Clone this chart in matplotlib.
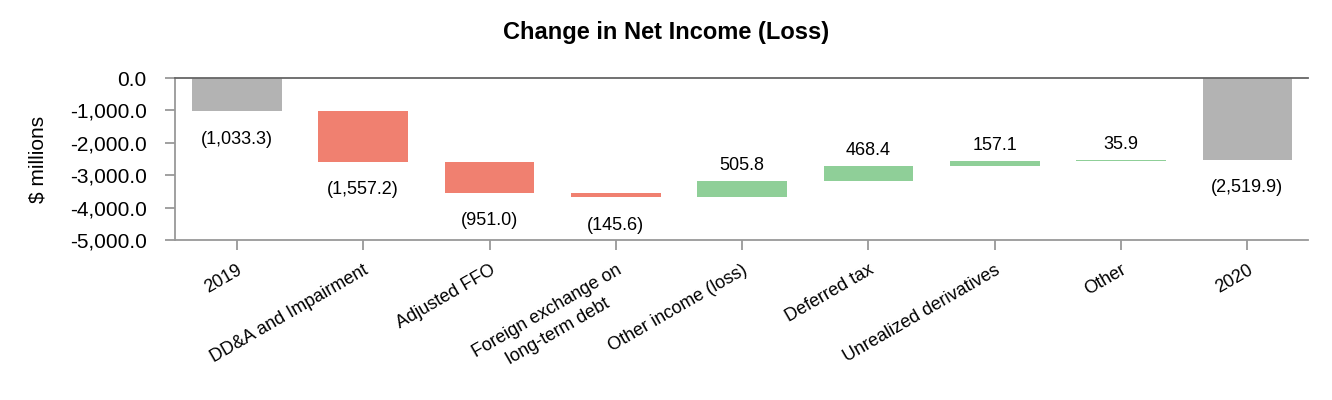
import matplotlib.pyplot as plt
from matplotlib.ticker import FuncFormatter

plt.rcParams['font.family'] = ['Liberation Sans', 'DejaVu Sans']

categories = ['2019', 'DD&A and Impairment', 'Adjusted FFO',
              'Foreign exchange on\nlong-term debt', 'Other income (loss)',
              'Deferred tax', 'Unrealized derivatives', 'Other', '2020']
changes = [-1033.3, -1557.2, -951.0, -145.6, 505.8, 468.4, 157.1, 35.9, -2519.9]
is_total = [True, False, False, False, False, False, False, False, True]

fig = plt.figure(figsize=(13.32, 4), dpi=100)
ax = fig.add_axes([0.1314, 0.40, 0.8506, 0.405])

# build waterfall bottoms
running = 0.0
for i, (v, tot) in enumerate(zip(changes, is_total)):
    if tot:
        bottom, top = 0.0, v
        color = '#b3b3b3'
        running = v
    else:
        bottom = running
        top = running + v
        running = top
        color = '#f08070' if v < 0 else '#8fcf98'
    ax.bar(i, top - bottom, bottom=bottom, width=0.71, color=color, zorder=2)
    low = min(top, bottom)
    high = max(top, bottom)
    if v < 0:
        txt = '({:,.1f})'.format(abs(v))
        ax.annotate(txt, (i, low), xytext=(0, -14), textcoords='offset points',
                    ha='center', va='top', fontsize=13)
    else:
        txt = '{:,.1f}'.format(v)
        ax.annotate(txt, (i, high), xytext=(0, 5), textcoords='offset points',
                    ha='center', va='bottom', fontsize=13)

ax.set_xlim(-0.49, 8.48)
ax.set_ylim(-5000, 0)
ax.set_yticks([0, -1000, -2000, -3000, -4000, -5000])
ax.yaxis.set_major_formatter(FuncFormatter(lambda x, p: '{:,.1f}'.format(x).replace('-0.0', '0.0')))
ax.set_xticks(range(len(categories)))
labels = ax.set_xticklabels(categories, rotation=30, ha='right', rotation_mode='anchor',
                            fontsize=13, multialignment='center')
labels[3].set_linespacing(1.5)

ax.axhline(0, color='#666666', lw=1.3, zorder=3, clip_on=False)
for s in ['top', 'right']:
    ax.spines[s].set_visible(False)
for s in ['left', 'bottom']:
    ax.spines[s].set_color('#999999')
    ax.spines[s].set_linewidth(1.3)
ax.tick_params(axis='y', labelsize=15, length=7.5, color='#999999', width=1.3, pad=13)
ax.tick_params(axis='x', length=7.5, color='#999999', width=1.3, pad=8)
ax.set_ylabel('$ millions', fontsize=15, labelpad=16)

fig.text(0.5, 0.92, 'Change in Net Income (Loss)', ha='center', va='center',
         fontsize=17, fontweight='bold')

plt.savefig('out.png', dpi=100)
